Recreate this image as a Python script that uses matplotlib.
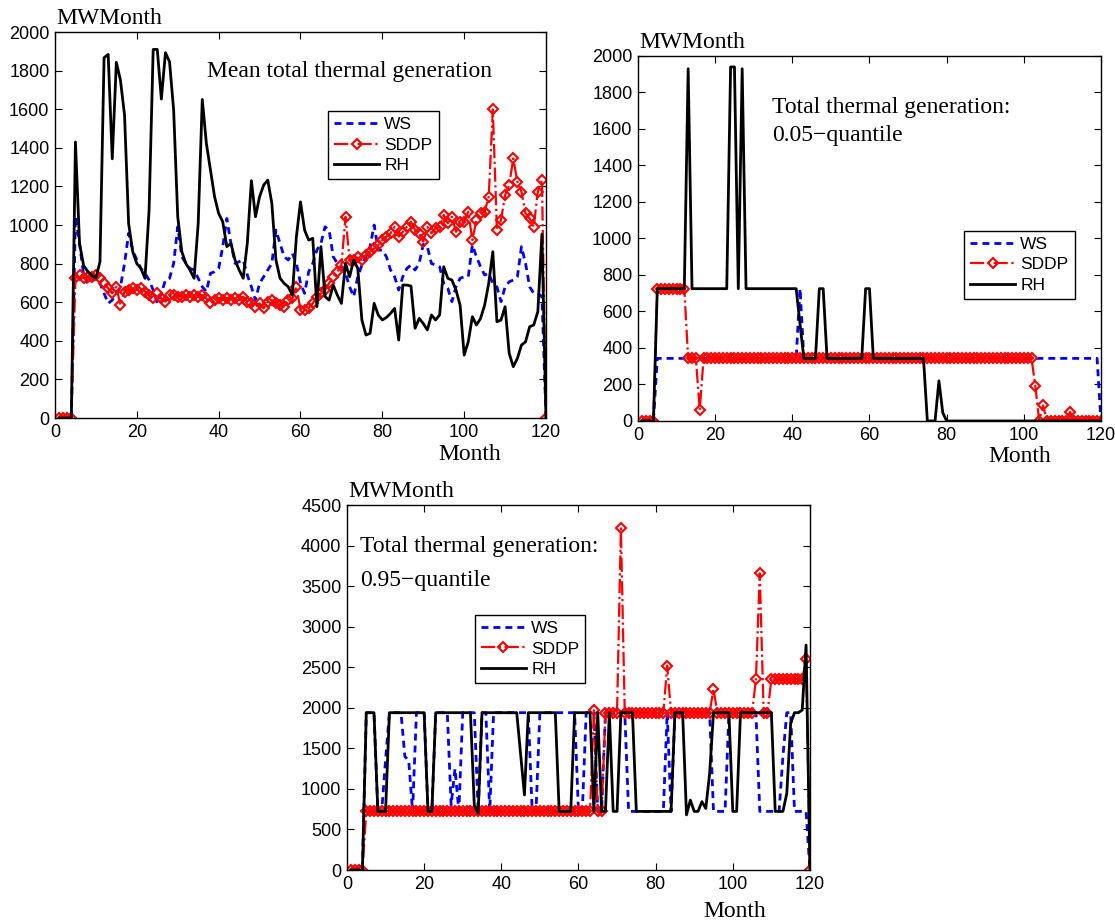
import matplotlib
matplotlib.use('Agg')
import matplotlib.pyplot as plt
import numpy as np

# months 1..120
months = np.arange(1, 121)

# ---- mean total thermal generation ----
ws_mean = [0, 0, 0, 0, 1043, 905, 741, 698, 706, 732,
           698, 646, 594, 611, 646, 680, 801, 957, 870, 819,
           775, 750, 715, 663, 594, 646, 715, 724, 801, 991,
           836, 801, 775, 767, 724, 680, 655, 750, 758, 775,
           888, 1034, 905, 801, 810, 819, 741, 680, 611, 698,
           732, 767, 801, 974, 905, 836, 819, 853, 801, 698,
           646, 758, 801, 870, 905, 991, 974, 836, 801, 784,
           750, 680, 629, 732, 793, 836, 888, 1000, 870, 870,
           836, 767, 732, 663, 732, 775, 793, 767, 801, 900,
           888, 801, 793, 784, 698, 672, 603, 680, 724, 732,
           732, 896, 836, 784, 741, 750, 698, 680, 603, 680,
           706, 715, 732, 888, 801, 680, 646, 646, 629, 0]
sddp_mean = [0, 0, 0, 0, 727, 741, 724, 732, 732, 741,
             724, 698, 672, 646, 680, 585, 655, 663, 672, 663,
             672, 655, 637, 620, 646, 620, 603, 637, 637, 629,
             629, 637, 629, 637, 629, 637, 620, 594, 611, 620,
             611, 620, 611, 620, 611, 629, 603, 594, 577, 594,
             568, 603, 611, 594, 585, 577, 611, 620, 680, 560,
             560, 570, 594, 629, 646, 663, 698, 732, 758, 793,
             1043, 819, 819, 836, 819, 845, 862, 879, 896, 922,
             940, 957, 991, 940, 965, 991, 1017, 974, 957, 914,
             991, 957, 983, 991, 1052, 1009, 1043, 965, 1017, 1017,
             1069, 922, 1026, 1060, 1069, 1147, 1599, 974, 1026, 1155,
             1207, 1345, 1224, 1173, 1060, 1034, 991, 1173, 1233, 0]
rh_mean = [0, 0, 0, 0, 1430, 905, 790, 760, 740, 725,
           810, 1867, 1884, 1343, 1843, 1751, 1570, 1008, 862, 800,
           775, 724, 1078, 1910, 1910, 1653, 1893, 1846, 1596, 1043,
           862, 800, 767, 724, 1008, 1651, 1423, 1285, 1147, 1060,
           1017, 888, 905, 819, 767, 724, 905, 1230, 1043, 1147,
           1207, 1233, 1112, 819, 724, 698, 680, 637, 940, 1120,
           974, 922, 931, 577, 888, 629, 611, 689, 637, 594,
           801, 732, 819, 775, 508, 430, 439, 594, 534, 508,
           521, 542, 568, 404, 689, 689, 684, 465, 516, 490,
           456, 534, 508, 534, 784, 724, 715, 663, 585, 326,
           395, 525, 482, 516, 585, 698, 862, 499, 508, 577,
           335, 266, 309, 378, 395, 473, 482, 551, 953, 0]

# ---- 0.05-quantile ----
ws_q05 = [0, 0, 0, 0, 343, 343, 343, 343, 343, 343,
          343, 343, 343, 343, 343, 343, 343, 343, 343, 343,
          343, 343, 343, 343, 343, 343, 343, 343, 343, 343,
          343, 343, 343, 343, 343, 343, 343, 343, 343, 343,
          343, 725, 343, 343, 343, 343, 343, 343, 343, 343,
          343, 343, 343, 343, 343, 343, 343, 343, 343, 343,
          343, 343, 343, 343, 343, 343, 343, 343, 343, 343,
          343, 343, 343, 343, 343, 343, 343, 343, 343, 343,
          343, 343, 343, 343, 343, 343, 343, 343, 343, 343,
          343, 343, 343, 343, 343, 343, 343, 343, 343, 343,
          343, 343, 343, 343, 343, 343, 343, 343, 343, 343,
          343, 343, 343, 343, 343, 343, 343, 343, 343, 0]
sddp_q05 = [0, 0, 0, 0, 725, 725, 725, 725, 725, 725,
            725, 725, 343, 343, 343, 60, 343, 343, 343, 343,
            343, 343, 343, 343, 343, 343, 343, 343, 343, 343,
            343, 343, 343, 343, 343, 343, 343, 343, 343, 343,
            343, 343, 343, 343, 343, 343, 343, 343, 343, 343,
            343, 343, 343, 343, 343, 343, 343, 343, 343, 343,
            343, 343, 343, 343, 343, 343, 343, 343, 343, 343,
            343, 343, 343, 343, 343, 343, 343, 343, 343, 343,
            343, 343, 343, 343, 343, 343, 343, 343, 343, 343,
            343, 343, 343, 343, 343, 343, 343, 343, 343, 343,
            343, 343, 190, 0, 85, 0, 0, 0, 0, 0,
            0, 50, 0, 0, 0, 0, 0, 0, 0, 0]
rh_q05 = [0, 0, 0, 0, 725, 725, 725, 725, 725, 725,
          725, 725, 1930, 725, 725, 725, 725, 725, 725, 725,
          725, 725, 725, 1940, 1940, 725, 1930, 725, 725, 725,
          725, 725, 725, 725, 725, 725, 725, 725, 725, 725,
          725, 530, 343, 343, 343, 343, 725, 725, 343, 343,
          343, 343, 343, 343, 343, 343, 343, 343, 725, 725,
          343, 343, 343, 343, 343, 343, 343, 343, 343, 343,
          343, 343, 343, 343, 0, 0, 0, 220, 45, 0,
          0, 0, 0, 0, 0, 0, 0, 0, 0, 0,
          0, 0, 0, 0, 0, 0, 0, 0, 0, 0,
          0, 0, 0, 0, 0, 0, 0, 0, 0, 0,
          0, 0, 0, 0, 0, 0, 0, 0, 0, 0]

# ---- 0.95-quantile ----
ws_q95 = [0, 0, 0, 0, 1940, 1940, 1940, 723, 723, 1356,
          1940, 1940, 1940, 1940, 1400, 1350, 723, 1940, 1940, 1940,
          723, 723, 1940, 1940, 1940, 1940, 800, 1250, 723, 1940,
          1940, 1940, 1940, 723, 1940, 1940, 723, 1940, 1940, 1940,
          1940, 1940, 1940, 1940, 1940, 1940, 1940, 723, 723, 1940,
          1940, 1940, 1940, 1940, 1940, 1940, 1940, 1940, 1940, 723,
          723, 1940, 1940, 1940, 723, 723, 1940, 1940, 1940, 1940,
          1940, 1940, 723, 723, 723, 723, 723, 723, 723, 723,
          723, 723, 1940, 723, 1940, 1940, 1940, 1940, 1940, 1940,
          1940, 1940, 1940, 1940, 723, 723, 723, 723, 1940, 1940,
          1940, 1940, 1940, 1940, 1940, 1940, 723, 723, 723, 723,
          723, 723, 1400, 1940, 1940, 723, 723, 723, 723, 0]
sddp_q95 = [0, 0, 0, 0, 723, 723, 723, 723, 723, 723,
            723, 723, 723, 723, 723, 723, 723, 723, 723, 723,
            723, 723, 723, 723, 723, 723, 723, 723, 723, 723,
            723, 723, 723, 723, 723, 723, 723, 723, 723, 723,
            723, 723, 723, 723, 723, 723, 723, 723, 723, 723,
            723, 723, 723, 723, 723, 723, 723, 723, 723, 723,
            723, 723, 723, 1970, 723, 723, 1940, 1940, 1940, 1940,
            4213, 1940, 1940, 1940, 1940, 1940, 1940, 1940, 1940, 1940,
            1940, 1940, 2520, 1940, 1940, 1940, 1940, 1940, 1940, 1940,
            1940, 1940, 1940, 1940, 2232, 1940, 1940, 1940, 1940, 1940,
            1940, 1940, 1940, 1940, 1940, 2351, 3658, 1940, 1940, 2351,
            2351, 2351, 2351, 2351, 2351, 2351, 2351, 2351, 2602, 0]
rh_q95 = [0, 0, 0, 0, 1940, 1940, 1940, 723, 723, 723,
          1940, 1940, 1940, 1940, 1940, 1940, 1940, 1940, 1940, 1940,
          723, 723, 1940, 1940, 1940, 1940, 1940, 1940, 1940, 1940,
          1940, 1940, 800, 700, 1940, 1940, 1940, 1940, 1940, 1940,
          1940, 1940, 1940, 1940, 1430, 925, 1940, 1940, 1940, 1940,
          1940, 1940, 1940, 1940, 723, 723, 723, 723, 1940, 1940,
          1940, 1940, 1940, 723, 1940, 723, 723, 1940, 723, 723,
          1940, 1940, 1940, 1940, 723, 723, 723, 723, 723, 723,
          723, 723, 723, 723, 1940, 1940, 1940, 680, 863, 723,
          723, 843, 760, 1190, 1940, 1940, 1940, 1940, 1940, 723,
          723, 1940, 1940, 1940, 1940, 1940, 1940, 1940, 1940, 1940,
          723, 723, 723, 945, 1808, 1940, 1940, 1973, 2774, 0]

series_names = ['WS', 'SDDP', 'RH']

plt.rcParams['font.family'] = ['Liberation Sans', 'DejaVu Sans']
SERIF = 'Liberation Serif'

fig = plt.figure(figsize=(11.15, 9.24), dpi=100)

def make_axes(rect, ylim, ystep):
    ax = fig.add_axes(rect)
    ax.set_xlim(0, 120)
    ax.set_ylim(0, ylim)
    ax.set_xticks(np.arange(0, 121, 20))
    ax.set_yticks(np.arange(0, ylim + 1, ystep))
    ax.tick_params(direction='in', top=True, right=True, length=5,
                   labelsize=13, pad=4)
    for s in ax.spines.values():
        s.set_linewidth(1.0)
    return ax

def draw(ax, ws, sddp, rh):
    ax.plot(months, ws, color='blue', ls='--', lw=2.0, dashes=(2.5, 1.8),
            label=series_names[0])
    ax.plot(months, sddp, color='red', ls='-.', lw=1.6, marker='D',
            ms=5.5, mfc='none', mew=1.5, label=series_names[1])
    ax.plot(months, rh, color='black', ls='-', lw=2.0, label=series_names[2])

def legend(ax, x, y):
    leg = ax.legend(loc='upper left', bbox_to_anchor=(x, y), fontsize=12.5,
                    fancybox=False, edgecolor='black', framealpha=1,
                    borderaxespad=0, handlelength=2.6, handletextpad=0.3,
                    labelspacing=0.3, borderpad=0.35)
    leg.get_frame().set_linewidth(1.0)

def unit_labels(ax, month_x, month_off):
    ax.annotate('MWMonth', xy=(0, 1), xycoords='axes fraction',
                xytext=(1, 5.5), textcoords='offset points',
                ha='left', va='baseline', fontsize=17, family=SERIF)
    ax.annotate('Month', xy=(month_x, 0), xycoords='axes fraction',
                xytext=(0, -month_off), textcoords='offset points',
                ha='center', va='baseline', fontsize=17, family=SERIF)

# top-left: mean
ax1 = make_axes([0.0493, 0.5476, 0.4404, 0.4177], 2000, 200)
draw(ax1, ws_mean, sddp_mean, rh_mean)
legend(ax1, 0.556, 0.795)
unit_labels(ax1, 0.845, 30)
ax1.text(37.2, 1798, 'Mean total thermal generation', family=SERIF,
         fontsize=17, ha='left', va='center')

# top-right: 0.05 quantile
ax2 = make_axes([0.5722, 0.5444, 0.4152, 0.3950], 2000, 200)
draw(ax2, ws_q05, sddp_q05, rh_q05)
legend(ax2, 0.704, 0.521)
unit_labels(ax2, 0.825, 29.5)
ax2.text(34.8, 1720, 'Total thermal generation:', family=SERIF,
         fontsize=17, ha='left', va='center')
ax2.text(34.8, 1567, '0.05\u2212quantile', family=SERIF,
         fontsize=17, ha='left', va='center')

# bottom: 0.95 quantile
ax3 = make_axes([0.3112, 0.0584, 0.4152, 0.3950], 4500, 500)
draw(ax3, ws_q95, sddp_q95, rh_q95)
legend(ax3, 0.276, 0.699)
unit_labels(ax3, 0.838, 34)
ax3.text(3.4, 3995, 'Total thermal generation:', family=SERIF,
         fontsize=17, ha='left', va='center')
ax3.text(3.4, 3576, '0.95\u2212quantile', family=SERIF,
         fontsize=17, ha='left', va='center')

fig.savefig('out.png', dpi=100)
